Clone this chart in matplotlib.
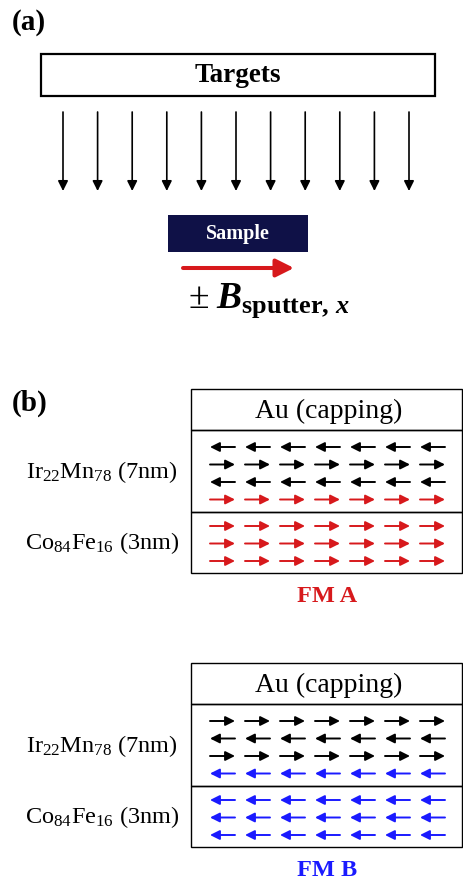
import numpy as np
import matplotlib

matplotlib.use("Agg")
import matplotlib.pyplot as plt
from matplotlib.patches import Rectangle

plt.rcParams['font.family'] = ['Liberation Serif', 'DejaVu Serif']
plt.rcParams['mathtext.fontset'] = 'custom'
plt.rcParams['mathtext.rm'] = 'Liberation Serif'
plt.rcParams['mathtext.it'] = 'Liberation Serif:italic:bold'
plt.rcParams['mathtext.bf'] = 'Liberation Serif:bold'

# --- data -------------------------------------------------------------
n_flux_arrows = 11          # arrows coming from the targets
n_spin_cols = 7             # spins per row in each stack

# spin direction per row (+1 right, -1 left), top to bottom
fm_a_irmn = [-1, 1, -1, 1]
fm_a_cofe = [1, 1, 1]
fm_b_irmn = [1, -1, 1, -1]
fm_b_cofe = [-1, -1, -1]

# colour per row: the interface row takes the ferromagnet colour
red = '#d7191c'
blue = '#1a1aff'
fm_a_colors = ['black', 'black', 'black', red]
fm_b_colors = ['black', 'black', 'black', blue]

layer_labels = [r'Ir$_{22}$Mn$_{78}$ (7nm)', r'Co$_{84}$Fe$_{16}$ (3nm)']
stack_names = ['FM A', 'FM B']
stack_name_colors = [red, blue]

# --- figure in pixel coordinates ---------------------------------------
fig = plt.figure(figsize=(4.63, 8.81), dpi=100)
ax = fig.add_axes([0, 0, 1, 1])
ax.set_xlim(0, 463)
ax.set_ylim(881, 0)
ax.axis('off')


def arrow(x0, y0, x1, y1, color, lw, scale):
    ax.annotate('', xy=(x1, y1), xytext=(x0, y0),
                arrowprops=dict(arrowstyle='-|>', color=color, lw=lw,
                                mutation_scale=scale, shrinkA=0, shrinkB=0))


# (a) sputter geometry
ax.text(12, 22, '(a)', fontsize=21, fontweight='bold', va='center', ha='left')
ax.add_patch(Rectangle((41, 54), 394, 42, fill=False, lw=1.6, ec='black'))
ax.text(238, 76, 'Targets', fontsize=19.5, fontweight='bold', ha='center', va='center')

xs = np.linspace(63, 409, n_flux_arrows)
for x in xs:
    arrow(x, 112, x, 191, 'black', 1.2, 15)

ax.add_patch(Rectangle((168, 215), 140, 37, fc='#0f1147', ec='none'))
ax.text(238, 234, 'Sample', fontsize=14.5, fontweight='bold', color='white',
        ha='center', va='center')
arrow(183, 268, 294, 268, red, 2.9, 27)
ax.text(188, 308, r'$\pm\;B_{\mathbf{sputter,}\,x}$', fontsize=27, ha='left',
        va='baseline')

# (b) the two stacks
ax.text(12, 403, '(b)', fontsize=21, fontweight='bold', va='center', ha='left')


def stack(top, irmn_dirs, irmn_colors, cofe_dirs, cofe_color, name, name_color):
    left, right = 191, 462
    au_h, irmn_h, cofe_h = 41, 82, 61
    y1 = top + au_h
    y2 = y1 + irmn_h
    y3 = y2 + cofe_h
    for y0, h in [(top, au_h), (y1, irmn_h), (y2, cofe_h)]:
        ax.add_patch(Rectangle((left, y0), right - left, h, fill=False,
                               lw=1.0, ec='black'))
    ax.text((left + right) / 2 + 2, top + au_h / 2 + 2, 'Au (capping)', fontsize=20,
            ha='center', va='center')

    col_x = 210 + 35 * np.arange(n_spin_cols)
    irmn_rows = y1 + 17.5 * np.arange(len(irmn_dirs)) + 17
    cofe_rows = y2 + 17.5 * np.arange(len(cofe_dirs)) + 14
    for yy, d, c in zip(irmn_rows, irmn_dirs, irmn_colors):
        for x in col_x:
            x0, x1 = (x, x + 25) if d > 0 else (x + 25, x)
            arrow(x0, yy, x1, yy, c, 1.4, 14)
    for yy, d in zip(cofe_rows, cofe_dirs):
        for x in col_x:
            x0, x1 = (x, x + 25) if d > 0 else (x + 25, x)
            arrow(x0, yy, x1, yy, cofe_color, 1.4, 14)

    ax.text(102, (y1 + y2) / 2 + 1, layer_labels[0], fontsize=17.5,
            ha='center', va='center')
    ax.text(102, (y2 + y3) / 2 + 1, layer_labels[1], fontsize=17.5,
            ha='center', va='center')
    ax.text((left + right) / 2 + 1, y3 + 24, name, fontsize=17.5,
            fontweight='bold', color=name_color, ha='center', va='center')


stack(389, fm_a_irmn, fm_a_colors, fm_a_cofe, red, stack_names[0], stack_name_colors[0])
stack(663, fm_b_irmn, fm_b_colors, fm_b_cofe, blue, stack_names[1], stack_name_colors[1])

fig.savefig('out.png', dpi=100)
